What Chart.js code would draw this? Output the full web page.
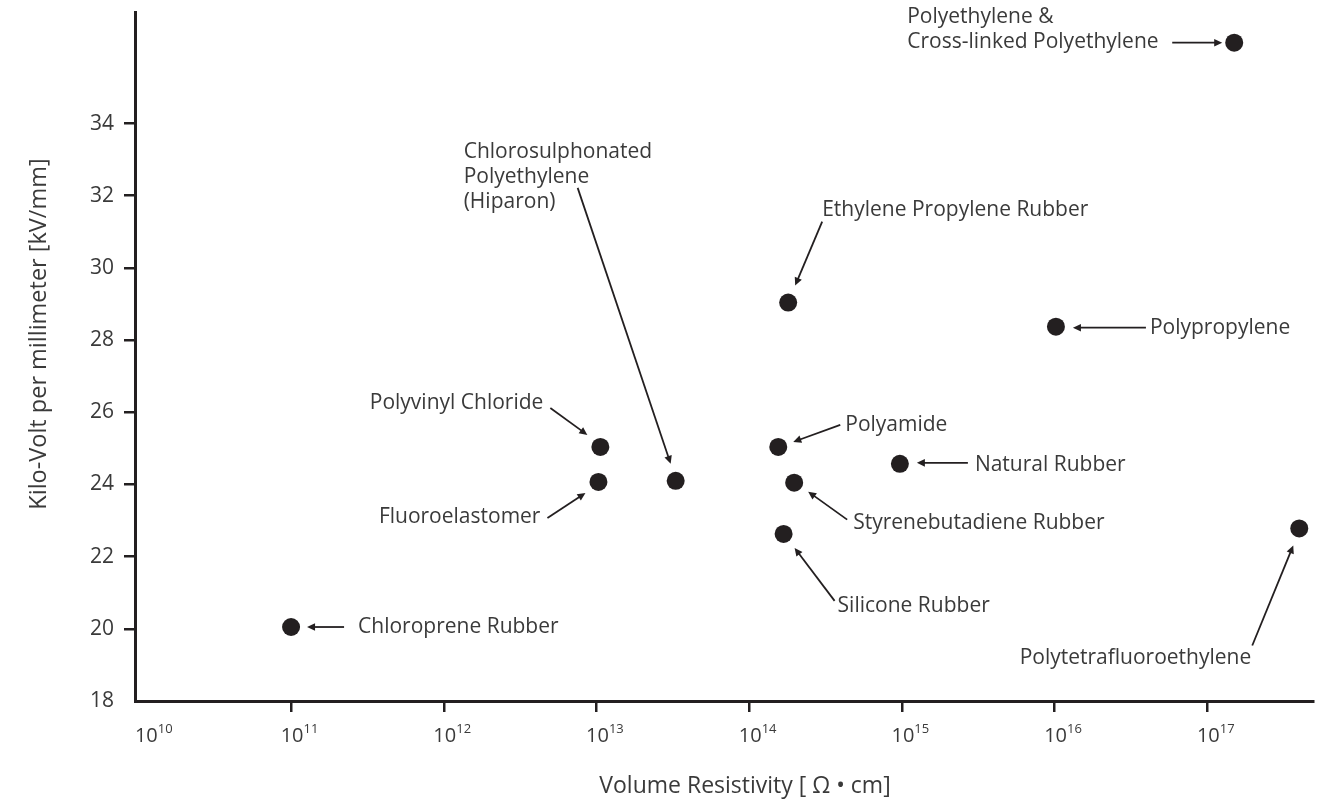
<!DOCTYPE html>
<html>
<head>
<meta charset="utf-8">
<title>Dielectric strength vs volume resistivity</title>
<script src="https://cdn.jsdelivr.net/npm/chart.js@4.4.1/dist/chart.umd.min.js"></script>
<style>
  html, body { margin: 0; padding: 0; background: #fff; }
  canvas { display: block; }
</style>
</head>
<body>
<canvas id="chart" width="1333" height="803"></canvas>
<script>
// data
const materials = [
    'Polyethylene &\nCross-linked Polyethylene',
    'Chlorosulphonated\nPolyethylene\n(Hiparon)',
    'Ethylene Propylene Rubber',
    'Polypropylene',
    'Polyvinyl Chloride',
    'Polyamide',
    'Natural Rubber',
    'Fluoroelastomer',
    'Styrenebutadiene Rubber',
    'Silicone Rubber',
    'Polytetrafluoroethylene',
    'Chloroprene Rubber'
];
const resistivity = [1.5e17, 3.3e13, 1.8e14, 1.02e16, 1.06e13, 1.55e14, 9.7e14, 1.03e13, 1.97e14, 1.68e14, 4.0e17, 1.0e11];
const kvPerMm = [36.24, 24.10, 29.04, 28.37, 25.04, 25.04, 24.57, 24.07, 24.05, 22.63, 22.78, 20.05];

const xTickExponents = [10, 11, 12, 13, 14, 15, 16, 17];
const yTicks = [18, 20, 22, 24, 26, 28, 30, 32, 34];

const xTitle = 'Volume Resistivity [ \u03A9 \u2022 cm]';
const yTitle = 'Kilo-Volt per millimeter [kV/mm]';

// where each label and its arrow sit, in pixels relative to its point
const labelLayout = [
    { dx: -327, dy: -26, align: 'left', from: [-62, 0], to: [-12, 0] },
    { dx: -212, dy: -329, align: 'left', from: [-98, -293], to: [-5, -17] },
    { dx: 34, dy: -93, align: 'left', from: [34, -81], to: [7, -17] },
    { dx: 94, dy: 1.5, align: 'left', from: [90, 1], to: [17, 1] },
    { dx: -57, dy: -44, align: 'right', from: [-50, -39], to: [-13, -12] },
    { dx: 67, dy: -22, align: 'left', from: [62, -22], to: [15, -5] },
    { dx: 75, dy: 1, align: 'left', from: [68, -1], to: [17, -1] },
    { dx: -58, dy: 35, align: 'right', from: [-51, 36], to: [-13, 11] },
    { dx: 59, dy: 40, align: 'left', from: [53, 37], to: [14, 9] },
    { dx: 54, dy: 72, align: 'left', from: [51, 67], to: [11, 14] },
    { dx: -48, dy: 130, align: 'right', from: [-47, 117], to: [-6, 17] },
    { dx: 67, dy: 0, align: 'left', from: [53, 0], to: [16, 0] }
];

const INK = '#231f20';
const TEXT = '#3a3a3a';
const FONT = '"Open Sans", "DejaVu Sans", sans-serif';

function drawArrow(ctx, x1, y1, x2, y2) {
    const ang = Math.atan2(y2 - y1, x2 - x1);
    const len = 8, half = 3.8;
    ctx.beginPath();
    ctx.moveTo(x1, y1);
    ctx.lineTo(x2 - Math.cos(ang) * len * 0.8, y2 - Math.sin(ang) * len * 0.8);
    ctx.stroke();
    ctx.beginPath();
    ctx.moveTo(x2, y2);
    ctx.lineTo(x2 - Math.cos(ang) * len - Math.sin(ang) * half, y2 - Math.sin(ang) * len + Math.cos(ang) * half);
    ctx.lineTo(x2 - Math.cos(ang) * len + Math.sin(ang) * half, y2 - Math.sin(ang) * len - Math.cos(ang) * half);
    ctx.closePath();
    ctx.fill();
}

const annotations = {
    id: 'annotations',
    afterDraw(chart) {
        const ctx = chart.ctx;
        const xs = chart.scales.x, ys = chart.scales.y;
        ctx.save();

        // labels and arrows
        ctx.lineWidth = 1.8;
        materials.forEach((name, i) => {
            const px = xs.getPixelForValue(resistivity[i]);
            const py = ys.getPixelForValue(kvPerMm[i]);
            const l = labelLayout[i];
            ctx.strokeStyle = INK;
            ctx.fillStyle = INK;
            drawArrow(ctx, px + l.from[0], py + l.from[1], px + l.to[0], py + l.to[1]);
            ctx.fillStyle = TEXT;
            ctx.font = '21px ' + FONT;
            ctx.textAlign = l.align;
            ctx.textBaseline = 'middle';
            name.split('\n').forEach((line, k) => {
                ctx.fillText(line, px + l.dx, py + l.dy + k * 25);
            });
        });

        // x tick labels as powers of ten (the first one nudged clear of the axis)
        ctx.fillStyle = TEXT;
        ctx.textBaseline = 'alphabetic';
        xTickExponents.forEach((e, k) => {
            const x = xs.getPixelForValue(Math.pow(10, e)) + (k === 0 ? 8 : 1);
            ctx.font = '20px ' + FONT;
            ctx.textAlign = 'center';
            const w = ctx.measureText('10').width;
            ctx.fillText('10', x, 742);
            ctx.font = '13px ' + FONT;
            ctx.textAlign = 'left';
            ctx.fillText(String(e), x + w / 2, 733);
        });

        // axis titles
        ctx.textAlign = 'center';
        ctx.textBaseline = 'middle';
        ctx.font = '23px ' + FONT;
        ctx.fillText(xTitle, 745, 786);
        ctx.font = '23.5px ' + FONT;
        ctx.translate(39, 334);
        ctx.rotate(-Math.PI / 2);
        ctx.fillText(yTitle, 0, 0);
        ctx.restore();
    }
};

const hideFirst = (c) => (c.index === 0 ? 'rgba(0,0,0,0)' : INK);

new Chart(document.getElementById('chart').getContext('2d'), {
    type: 'scatter',
    data: {
        datasets: [{
            label: 'Materials',
            data: materials.map((m, i) => ({ x: resistivity[i], y: kvPerMm[i] })),
            backgroundColor: INK,
            borderWidth: 0,
            pointRadius: 9,
            pointHoverRadius: 9
        }]
    },
    options: {
        responsive: false,
        animation: false,
        events: [],
        layout: { padding: { top: 12, right: 20, left: 0, bottom: 0 } },
        plugins: {
            legend: { display: false },
            tooltip: { enabled: false }
        },
        scales: {
            x: {
                type: 'logarithmic',
                min: Math.pow(10, 9.978),
                max: Math.pow(10, 17.692),
                afterBuildTicks: (scale) => {
                    scale.ticks = xTickExponents.map(e => ({ value: Math.pow(10, e) }));
                },
                afterFit: (scale) => {
                    scale.height = 102;
                    scale.paddingLeft = 0;
                    scale.paddingRight = 0;
                },
                ticks: { display: false },
                grid: {
                    display: true,
                    drawOnChartArea: false,
                    drawTicks: true,
                    tickLength: 11,
                    lineWidth: 2.5,
                    color: hideFirst
                },
                border: { display: true, color: INK, width: 3 }
            },
            y: {
                type: 'linear',
                min: 18,
                max: 37.09,
                afterBuildTicks: (scale) => {
                    scale.ticks = yTicks.map(v => ({ value: v }));
                },
                afterFit: (scale) => {
                    scale.width = 135;
                    scale.paddingTop = 0;
                    scale.paddingBottom = 0;
                },
                ticks: {
                    color: TEXT,
                    padding: 10,
                    font: { family: FONT, size: 21 }
                },
                grid: {
                    display: true,
                    drawOnChartArea: false,
                    drawTicks: true,
                    tickLength: 11,
                    lineWidth: 2.5,
                    color: hideFirst
                },
                border: { display: true, color: INK, width: 3 }
            }
        }
    },
    plugins: [annotations]
});
</script>
</body>
</html>
